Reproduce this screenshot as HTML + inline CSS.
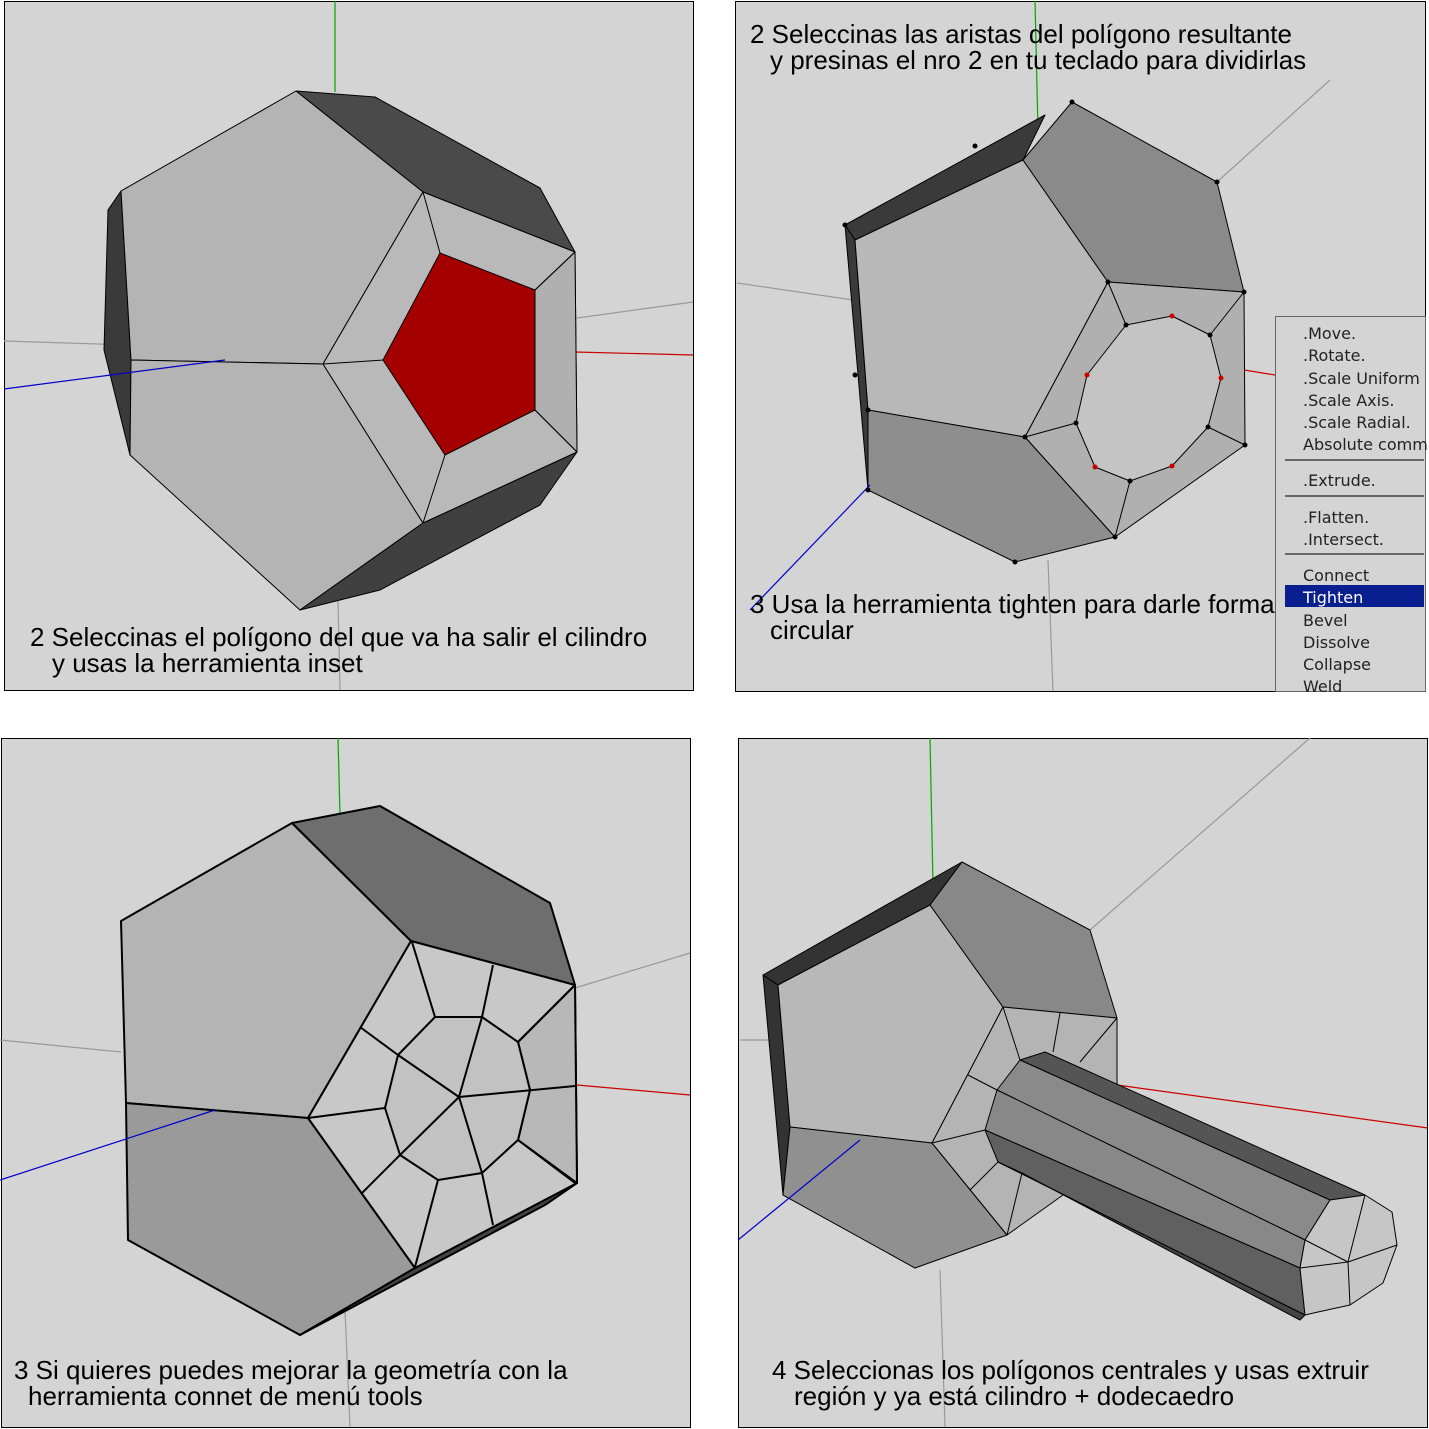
<!DOCTYPE html>
<html><head><meta charset="utf-8"><style>
html,body{margin:0;padding:0;background:#fff;}
svg{display:block;}
.t{font-family:"Liberation Sans",Arial,sans-serif;font-size:26px;fill:#000;}
.m{font-family:"DejaVu Sans","Liberation Sans",sans-serif;font-size:16px;fill:#222;}
</style></head><body>
<svg width="1429" height="1429" viewBox="0 0 1429 1429" xmlns="http://www.w3.org/2000/svg">
<rect width="1429" height="1429" fill="#fff"/>

<!-- PANEL 1 -->
<rect x="4.5" y="1.5" width="689" height="689" fill="#d4d4d4" stroke="#000"/>
<g stroke-width="1.2" fill="none">
<line x1="335" y1="1" x2="335" y2="92" stroke="#0a0"/>
<line x1="4" y1="341" x2="130" y2="345" stroke="#999"/>
<line x1="577" y1="318" x2="693" y2="302" stroke="#999"/>
<line x1="338" y1="600" x2="340" y2="690" stroke="#999"/>
<line x1="575" y1="352" x2="693" y2="355" stroke="#c00"/>
</g>
<g stroke="#000" stroke-width="1" stroke-linejoin="round">
<polygon points="121,191 108,210 104,350 130,455 131,360" fill="#3a3a3a"/>
<polygon points="296,91 375,97 540,188 575,252 423,192" fill="#4a4a4a"/>
<polygon points="121,191 296,91 423,192 323,364 131,360" fill="#b4b4b4"/>
<polygon points="131,360 323,364 423,523 300,610 130,455" fill="#b4b4b4"/>
<polygon points="300,610 423,523 577,452 540,505 380,590" fill="#404040"/>
<polygon points="423,192 575,252 577,452 423,523 323,364" fill="#b9b9b9"/>
<polygon points="535,290 575,252 577,452 535,410" fill="#b0b0b0"/>
<polygon points="440,253 535,290 535,410 445,455 383,360" fill="#a50000"/>
<line x1="423" y1="192" x2="440" y2="253"/>
<line x1="575" y1="252" x2="535" y2="290"/>
<line x1="577" y1="452" x2="535" y2="410"/>
<line x1="423" y1="523" x2="445" y2="455"/>
<line x1="323" y1="364" x2="383" y2="360"/>
</g>
<line x1="4" y1="389" x2="225" y2="360" stroke="#00c" stroke-width="1.2"/>
<text class="t" x="30" y="646">2 Seleccinas el polígono del que va ha salir el cilindro</text>
<text class="t" x="52" y="672">y usas la herramienta inset</text>

<!-- PANEL 2 -->
<rect x="735.5" y="1.5" width="690" height="690" fill="#d4d4d4" stroke="#000"/>
<g stroke-width="1.2" fill="none">
<line x1="1035" y1="1" x2="1038" y2="130" stroke="#0a0"/>
<line x1="1217" y1="182" x2="1330" y2="80" stroke="#999"/>
<line x1="737" y1="283" x2="853" y2="300" stroke="#999"/>
<line x1="1048" y1="560" x2="1053" y2="691" stroke="#999"/>
<line x1="1244" y1="370" x2="1275" y2="375" stroke="#c00"/>
</g>
<g stroke="#000" stroke-width="1" stroke-linejoin="round">
<polygon points="845,225 1045,115 1023,160 855,240" fill="#3a3a3a"/>
<polygon points="845,225 855,240 868,410 868,490" fill="#3a3a3a"/>
<polygon points="855,240 1023,160 1108,282 1025,437 868,410" fill="#b8b8b8"/>
<polygon points="1023,160 1072,102 1217,182 1244,292 1108,282" fill="#8a8a8a"/>
<polygon points="868,410 1025,437 1115,537 1015,562 868,490" fill="#8e8e8e"/>
<polygon points="1108,282 1244,292 1245,445 1115,537 1025,437" fill="#b0b0b0"/>
<polygon points="1126,325 1172,316 1210,335 1221,378 1208,427 1172,466 1130,481 1095,467 1076,423 1087,375" fill="#c4c4c4"/>
<line x1="1108" y1="282" x2="1126" y2="325"/>
<line x1="1244" y1="292" x2="1210" y2="335"/>
<line x1="1245" y1="445" x2="1208" y2="427"/>
<line x1="1115" y1="537" x2="1130" y2="481"/>
<line x1="1025" y1="437" x2="1076" y2="423"/>
</g>
<line x1="750" y1="610" x2="870" y2="485" stroke="#00c" stroke-width="1.2"/>
<g fill="#000">
<circle cx="1072" cy="102" r="2.5"/><circle cx="1217" cy="182" r="2.5"/><circle cx="1244" cy="292" r="2.5"/>
<circle cx="1245" cy="445" r="2.5"/><circle cx="1115" cy="537" r="2.5"/><circle cx="1015" cy="562" r="2.5"/>
<circle cx="868" cy="490" r="2.5"/><circle cx="868" cy="410" r="2.5"/><circle cx="845" cy="225" r="2.5"/>
<circle cx="1108" cy="282" r="2.5"/><circle cx="1025" cy="437" r="2.5"/><circle cx="975" cy="146" r="2.5"/>
<circle cx="1126" cy="325" r="2.5"/><circle cx="1210" cy="335" r="2.5"/><circle cx="1208" cy="427" r="2.5"/>
<circle cx="1130" cy="481" r="2.5"/><circle cx="1076" cy="423" r="2.5"/><circle cx="855" cy="375" r="2.5"/>
</g>
<g fill="#c00">
<circle cx="1172" cy="316" r="2.5"/><circle cx="1221" cy="378" r="2.5"/><circle cx="1172" cy="466" r="2.5"/>
<circle cx="1095" cy="467" r="2.5"/><circle cx="1087" cy="375" r="2.5"/>
</g>
<text class="t" x="750" y="43">2 Seleccinas las aristas del polígono resultante</text>
<text class="t" x="770" y="69">y presinas el nro 2 en tu teclado para dividirlas</text>
<text class="t" x="750" y="613">3 Usa la herramienta tighten para darle forma</text>
<text class="t" x="770" y="639">circular</text>
<!-- menu -->
<rect x="1275.5" y="316.5" width="150" height="375" fill="#d4d4d4" stroke="#666"/>
<rect x="1285" y="585" width="139" height="22" fill="#0a1f8f"/>
<g stroke="#444" stroke-width="1.5">
<line x1="1285" y1="460" x2="1424" y2="460"/>
<line x1="1285" y1="496" x2="1424" y2="496"/>
<line x1="1285" y1="554" x2="1424" y2="554"/>
</g>
<text class="m" x="1303" y="339">.Move.</text>
<text class="m" x="1303" y="361">.Rotate.</text>
<text class="m" x="1303" y="384">.Scale Uniform</text>
<text class="m" x="1303" y="406">.Scale Axis.</text>
<text class="m" x="1303" y="428">.Scale Radial.</text>
<text class="m" x="1303" y="450">Absolute comm</text>
<text class="m" x="1303" y="486">.Extrude.</text>
<text class="m" x="1303" y="523">.Flatten.</text>
<text class="m" x="1303" y="545">.Intersect.</text>
<text class="m" x="1303" y="581">Connect</text>
<text class="m" x="1303" y="603" style="fill:#fff">Tighten</text>
<text class="m" x="1303" y="626">Bevel</text>
<text class="m" x="1303" y="648">Dissolve</text>
<text class="m" x="1303" y="670">Collapse</text>
<text class="m" x="1303" y="692">Weld</text>

<!-- PANEL 3 -->
<rect x="1.5" y="738.5" width="689" height="689" fill="#d4d4d4" stroke="#000"/>
<g stroke-width="1.2" fill="none">
<line x1="338" y1="738" x2="340" y2="815" stroke="#0a0"/>
<line x1="0" y1="1040" x2="121" y2="1052" stroke="#999"/>
<line x1="575" y1="988" x2="690" y2="953" stroke="#999"/>
<line x1="345" y1="1310" x2="350" y2="1427" stroke="#999"/>
<line x1="577" y1="1085" x2="690" y2="1095" stroke="#c00"/>
</g>
<g stroke="#000" stroke-width="2" stroke-linejoin="round">
<polygon points="121,921 292,823 411,941 308,1118 126,1103" fill="#b4b4b4"/>
<polygon points="292,823 380,806 550,903 575,985 411,941" fill="#6e6e6e"/>
<polygon points="126,1103 308,1118 415,1268 300,1335 128,1240" fill="#9a9a9a"/>
<polygon points="300,1335 415,1268 577,1183 545,1205" fill="#444"/>
<polygon points="411,941 575,985 577,1183 415,1268 308,1118" fill="#c8c8c8"/>
<polygon points="518,1042 575,985 577,1183 518,1140 530,1090" fill="#b8b8b8"/>
<polygon points="435,1017 482,1017 518,1042 530,1090 518,1140 482,1173 438,1180 400,1155 385,1108 398,1055" fill="#c2c2c2"/>
<polyline points="360,1027 398,1055 459,1097 400,1155 362,1193" fill="none"/>
<polyline points="493,965 482,1017 459,1097 482,1173 493,1225" fill="none"/>
<line x1="459" y1="1097" x2="575" y2="1086"/>
<line x1="435" y1="1017" x2="412" y2="942"/>
<line x1="518" y1="1042" x2="573" y2="987"/>
<line x1="518" y1="1140" x2="575" y2="1183"/>
<line x1="438" y1="1180" x2="415" y2="1267"/>
<line x1="385" y1="1108" x2="308" y2="1118"/>
</g>
<line x1="0" y1="1180" x2="215" y2="1110" stroke="#00c" stroke-width="1.2"/>
<text class="t" x="14" y="1379">3 Si quieres puedes mejorar la geometría con la</text>
<text class="t" x="28" y="1405">herramienta connet de menú tools</text>

<!-- PANEL 4 -->
<rect x="738.5" y="738.5" width="689" height="689" fill="#d4d4d4" stroke="#000"/>
<g stroke-width="1.2" fill="none">
<line x1="930" y1="738" x2="933" y2="885" stroke="#0a0"/>
<line x1="1090" y1="930" x2="1310" y2="738" stroke="#999"/>
<line x1="740" y1="1040" x2="778" y2="1040" stroke="#999"/>
<line x1="940" y1="1270" x2="945" y2="1427" stroke="#999"/>
<line x1="1117" y1="1085" x2="1428" y2="1128" stroke="#c00"/>
</g>
<g stroke="#000" stroke-width="1" stroke-linejoin="round">
<polygon points="763,975 962,862 930,905 778,985" fill="#333"/>
<polygon points="763,975 778,985 790,1127 783,1195" fill="#333"/>
<polygon points="778,985 930,905 1003,1007 932,1143 790,1127" fill="#b8b8b8"/>
<polygon points="930,905 962,862 1090,930 1117,1018 1003,1007" fill="#888"/>
<polygon points="790,1127 932,1143 1007,1235 915,1268 783,1195" fill="#909090"/>
<polygon points="1003,1007 1117,1018 1117,1100 1063,1195 1007,1235 932,1143" fill="#b4b4b4"/>
<line x1="1003" y1="1007" x2="1020" y2="1060"/>
<line x1="1060" y1="1013" x2="1053" y2="1052"/>
<line x1="1117" y1="1018" x2="1080" y2="1062"/>
<line x1="968" y1="1075" x2="997" y2="1090"/>
<line x1="932" y1="1143" x2="985" y2="1130"/>
<line x1="970" y1="1190" x2="998" y2="1162"/>
<line x1="1007" y1="1235" x2="1022" y2="1173"/>
<polygon points="1020,1060 1045,1052 1365,1195 1330,1200" fill="#555"/>
<polygon points="1020,1060 1330,1200 1305,1240 997,1090" fill="#8a8a8a"/>
<polygon points="997,1090 1305,1240 1300,1268 985,1130" fill="#888"/>
<polygon points="985,1130 1300,1268 1305,1315 998,1162" fill="#606060"/>
<polygon points="998,1162 1305,1315 1300,1320 1022,1173" fill="#444"/>
<polygon points="1330,1200 1365,1195 1392,1212 1397,1245 1383,1283 1350,1305 1318,1312 1305,1315 1300,1268 1305,1240" fill="#c6c6c6"/>
<polyline points="1305,1240 1348,1262 1365,1195" fill="none"/>
<polyline points="1397,1245 1348,1262 1350,1305" fill="none"/>
<polyline points="1300,1268 1348,1262" fill="none"/>
</g>
<line x1="738" y1="1240" x2="860" y2="1140" stroke="#00c" stroke-width="1.2"/>
<text class="t" x="772" y="1379">4 Seleccionas los polígonos centrales y usas extruir</text>
<text class="t" x="794" y="1405">región y ya está cilindro + dodecaedro</text>
</svg>
</body></html>
